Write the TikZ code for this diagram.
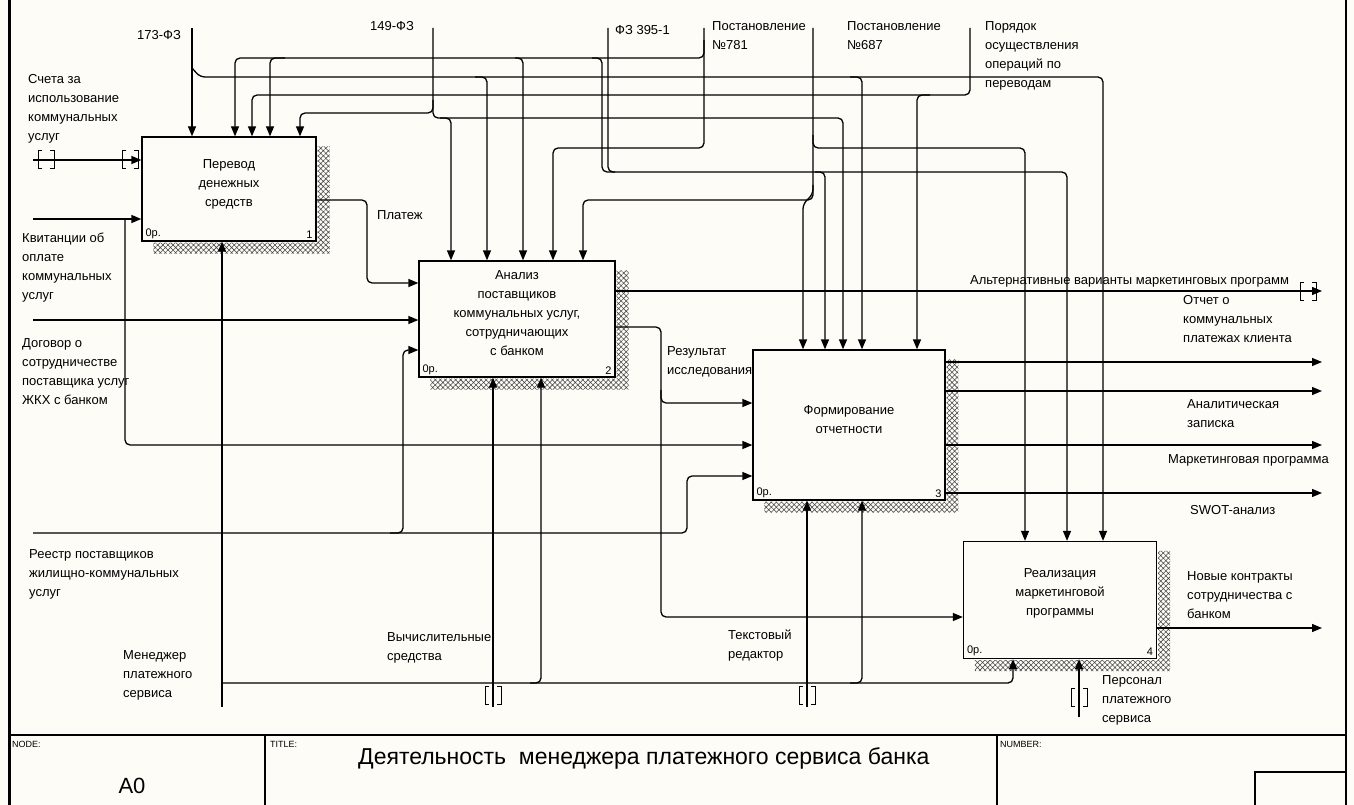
\documentclass[tikz,border=0pt]{standalone}
\usepackage{fontspec}
\setmainfont{Liberation Sans}
\usetikzlibrary{arrows.meta, patterns.meta, calc}
\definecolor{paper}{RGB}{253, 252, 246}
\definecolor{hatchgray}{RGB}{70, 70, 70}
\newcommand{\lblsize}{\fontsize{13}{19}\selectfont}
\newcommand{\boxshadow}[1]{%
  \fill[pattern={Hatch[angle=45, distance=3.6pt, line width=0.55pt]}, pattern color=hatchgray]
    ($(#1.north east)+(1,10)$) rectangle ($(#1.south east)+(13,12)$)
    ($(#1.south west)+(12,1)$) rectangle ($(#1.south east)+(1,12)$);}

\begin{document}
\begin{tikzpicture}[x=1pt, y=-1pt,
  ln/.style={line width=1.3pt, rounded corners=5pt},
  arr/.style={ln, -{Triangle[length=10pt, width=8pt]}},
  fbox/.style={draw, line width=1.3pt, fill=paper, align=center, font=\lblsize, inner sep=0pt},
  lbl/.style={anchor=north west, align=left, inner sep=0pt, font=\lblsize},
  corner/.style={inner sep=0pt, font=\fontsize{11}{12}\selectfont},
  tunnel/.pic={\draw[line width=1pt] (-4,-9) -- (-8,-9) -- (-8,9) -- (-4,9) (4,-9) -- (8,-9) -- (8,9) -- (4,9);}
]
  \useasboundingbox (0,0) rectangle (1354,805);
  \fill[paper] (0,0) rectangle (1354,805);

  % Frame and title block
  \draw[line width=3pt] (9,0) -- (9,805);
  \draw[line width=2pt] (1346,0) -- (1346,805);
  \draw[line width=1.5pt] (9,735) -- (1346,735);
  \draw[line width=1.2pt] (265,735) -- (265,805) (997,735) -- (997,805);
  \draw[line width=1.2pt] (1255,805) -- (1255,772) -- (1346,772);
  \node[anchor=west, inner sep=0pt, font=\fontsize{9}{10}\selectfont] (nodeh) at (12,744) {NODE:};
  \node[inner sep=0pt, font=\fontsize{22}{24}\selectfont] (nodeid) at (132,786) {A0};
  \node[anchor=west, inner sep=0pt, font=\fontsize{9}{10}\selectfont] (titleh) at (270,744) {TITLE:};
  \node[anchor=west, inner sep=0pt, font=\fontsize{23}{26}\selectfont] (title) at (358,758) {Деятельность\ \ менеджера платежного сервиса банка};
  \node[anchor=west, inner sep=0pt, font=\fontsize{9}{10}\selectfont] (numh) at (1000,744) {NUMBER:};

  % Activity boxes
  \node[fbox, minimum width=174pt, minimum height=104pt] (b1) at (229,189) {Перевод\\денежных\\средств\\[-7pt]\mbox{}};
  \node[fbox, minimum width=196pt, minimum height=116pt] (b2) at (517,319) {Анализ\\поставщиков\\коммунальных услуг,\\сотрудничающих\\с банком\\[-7pt]\mbox{}};
  \node[fbox, minimum width=192pt, minimum height=150pt] (b3) at (849,425) {Формирование\\отчетности\\[-7pt]\mbox{}};
  \node[fbox, minimum width=193pt, minimum height=117pt] (b4) at (1060,600) {Реализация\\маркетинговой\\программы\\[-3pt]\mbox{}};
  \foreach \b in {b1, b2, b3, b4} {\boxshadow{\b}}
  \node[corner, anchor=south west] (b1op) at ($(b1.south west)+(4,-3)$) {0р.};
  \node[corner, anchor=south east] (b1no) at ($(b1.south east)+(-4,-3)$) {1};
  \node[corner, anchor=south west] (b2op) at ($(b2.south west)+(4,-3)$) {0р.};
  \node[corner, anchor=south east] (b2no) at ($(b2.south east)+(-4,-3)$) {2};
  \node[corner, anchor=south west] (b3op) at ($(b3.south west)+(4,-3)$) {0р.};
  \node[corner, anchor=south east] (b3no) at ($(b3.south east)+(-4,-3)$) {3};
  \node[corner, anchor=south west] (b4op) at ($(b4.south west)+(4,-3)$) {0р.};
  \node[corner, anchor=south east] (b4no) at ($(b4.south east)+(-4,-3)$) {4};

  % Control sources
  \coordinate (c173) at (192,28);
  \coordinate (c149) at (433,28);
  \coordinate (c395) at (608,28);
  \coordinate (c781) at (704,28);
  \coordinate (c687) at (813,28);
  \coordinate (cpor) at (970,28);
  \node[lbl] (t173) at (137,30) {173-ФЗ};
  \node[lbl] (t149) at (370,21) {149-ФЗ};
  \node[lbl] (t395) at (615,25) {ФЗ 395-1};
  \node[lbl] (t781) at (712,21) {Постановление\\№781};
  \node[lbl] (t687) at (847,21) {Постановление\\№687};
  \node[lbl] (tpor) at (985,21) {Порядок\\осуществления\\операций по\\переводам};

  % 173-ФЗ
  \draw[arr] (c173) -- (c173 |- b1.north);
  \draw[arr] (192,68) -- (200,77) -| (1103,0 |- b4.north);
  \draw[arr] (475,77) -| (487,0 |- b2.north);
  \draw[arr] (850,77) -| (862,0 |- b3.north);
  % 149-ФЗ
  \draw[arr] (c149) |- (300,113) -- (300,0 |- b1.north);
  \draw[arr] (433,100) |- (843,118) -- (843,0 |- b3.north);
  \draw[arr] (440,118) -| (451,0 |- b2.north);
  % Постановление №781
  \draw[arr] (c781) |- (553,148) -- (553,0 |- b2.north);
  \draw[arr] (704,40) |- (235,58) -- (235,0 |- b1.north);
  \draw[arr] (285,58) -| (270,0 |- b1.north);
  \draw[arr] (515,58) -| (523,0 |- b2.north);
  \draw[ln] (592,58) -| (602,172) -- (615,172);
  % ФЗ 395-1
  \draw[arr] (c395) |- (1067,172) -- (1067,0 |- b4.north);
  \draw[arr] (815,172) -| (825,0 |- b3.north);
  % Постановление №687
  \draw[arr] (c687) -- (813,194) -- (803,204) -- (803,0 |- b3.north);
  \draw[arr] (813,185) |- (583,200) -- (583,0 |- b2.north);
  \draw[arr] (813,135) |- (1025,148) -- (1025,0 |- b4.north);
  % Порядок осуществления операций
  \draw[arr] (cpor) |- (252,95) -- (252,0 |- b1.north);
  \draw[arr] (930,95) -| (917,0 |- b3.north);

  % Inputs
  \coordinate (iSch) at (33,160);
  \coordinate (iKv) at (33,219);
  \coordinate (iDog) at (33,320);
  \coordinate (iRee) at (33,533);
  \node[lbl] (tsch) at (28,74) {Счета за\\использование\\коммунальных\\услуг};
  \node[lbl] (tkv) at (22,233) {Квитанции об\\оплате\\коммунальных\\услуг};
  \node[lbl] (tdog) at (22,338) {Договор о\\сотрудничестве\\поставщика услуг\\ЖКХ с банком};
  \node[lbl] (tree) at (29,549) {Реестр поставщиков\\жилищно-коммунальных\\услуг};
  \draw[arr] (iSch) -- (iSch -| b1.west);
  \pic at (46,160) {tunnel};
  \pic at (130,160) {tunnel};
  \draw[arr] (iKv) -- (iKv -| b1.west);
  \draw[arr] (125,219) |- (b3.west |- 0,445);
  \draw[arr] (iDog) -- (iDog -| b2.west);
  \draw[arr] (iRee) -| (403,350) -- (b2.west |- 0,350);
  \draw[arr] (390,533) -| (687,476) -- (b3.west |- 0,476);

  % Outputs
  \coordinate (oAlt) at (1322,291);
  \coordinate (o1) at (1322,362);
  \coordinate (o2) at (1322,391);
  \coordinate (o3) at (1322,445);
  \coordinate (o4) at (1322,493);
  \coordinate (oNew) at (1322,628);
  \node[lbl] (tplat) at (377,210) {Платеж};
  \node[lbl] (tres) at (667,346) {Результат\\исследования};
  \node[lbl] (talt) at (970,275) {Альтернативные варианты маркетинговых программ};
  \node[lbl] (totch) at (1183,295) {Отчет о\\коммунальных\\платежах клиента};
  \node[lbl] (tanal) at (1187,399) {Аналитическая\\записка};
  \node[lbl] (tmark) at (1168,454) {Маркетинговая программа};
  \node[lbl] (tswot) at (1190,505) {SWOT-анализ};
  \node[lbl] (tnew) at (1187,571) {Новые контракты\\сотрудничества с\\банком};
  \draw[arr] (b1.east |- 0,200) -| (367,283) -- (b2.west |- 0,283);
  \draw[arr] (b2.east |- oAlt) -- (oAlt);
  \pic at (1308,291) {tunnel};
  \draw[arr] (b2.east |- 0,327) -| (661,617) -- (b4.west |- 0,617);
  \draw[arr] (661,390) |- (b3.west |- 0,403);
  \draw[arr] (b3.east |- o1) -- (o1);
  \draw[arr] (b3.east |- o2) -- (o2);
  \draw[arr] (b3.east |- o3) -- (o3);
  \draw[arr] (b3.east |- o4) -- (o4);
  \draw[arr] (b4.east |- oNew) -- (oNew);

  % Mechanisms
  \coordinate (mMen) at (222,707);
  \coordinate (mVych) at (493,707);
  \coordinate (mTekst) at (807,707);
  \coordinate (mPers) at (1079,717);
  \node[lbl] (tmen) at (123,650) {Менеджер\\платежного\\сервиса};
  \node[lbl] (tvych) at (387,632) {Вычислительные\\средства};
  \node[lbl] (ttekst) at (728,630) {Текстовый\\редактор};
  \node[lbl] (tpers) at (1102,675) {Персонал\\платежного\\сервиса};
  \draw[arr] (mMen) -- (mMen |- b1.south);
  \draw[arr] (222,683) -| (541,0 |- b2.south);
  \draw[arr] (530,683) -| (862,0 |- b3.south);
  \draw[arr] (850,683) -| (1013,0 |- b4.south);
  \draw[arr] (mVych) -- (mVych |- b2.south);
  \pic at (493,695) {tunnel};
  \draw[arr] (mTekst) -- (mTekst |- b3.south);
  \pic at (807,695) {tunnel};
  \draw[arr] (mPers) -- (mPers |- b4.south);
  \pic at (1079,697) {tunnel};
\end{tikzpicture}
\end{document}
